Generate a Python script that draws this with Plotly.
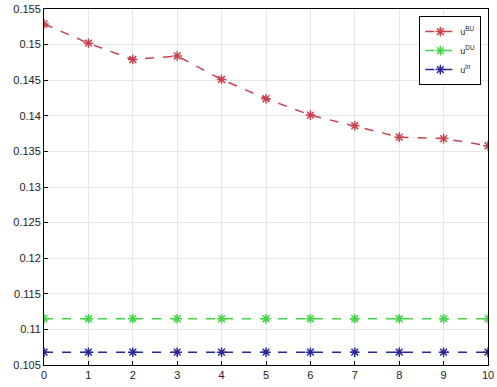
import plotly.graph_objects as go

x = [0, 1, 2, 3, 4, 5, 6, 7, 8, 9, 10]
u_bu = [0.1529, 0.1502, 0.1479, 0.1484, 0.1451, 0.1424, 0.1401, 0.1386, 0.1370, 0.1368, 0.1358]
u_du = [0.1115] * 11
u_in = [0.1068] * 11
names = ["u<sup>BU</sup>", "u<sup>DU</sup>", "u<sup>in</sup>"]
colors = ["#c8424e", "#44d444", "#28289a"]
y_ticks = [0.105, 0.11, 0.115, 0.12, 0.125, 0.13, 0.135, 0.14, 0.145, 0.15, 0.155]
y_labels = ["0.105", "0.11", "0.115", "0.12", "0.125", "0.13", "0.135", "0.14", "0.145", "0.15", "0.155"]

fig = go.Figure()
for ys, nm, c in zip([u_bu, u_du, u_in], names, colors):
    fig.add_trace(go.Scatter(
        x=x, y=ys, name=nm, mode="lines+markers",
        line=dict(color=c, width=1.5, dash="dash"),
        marker=dict(symbol="asterisk-open", size=8, color=c, line=dict(color=c, width=1.5)),
    ))

axis_common = dict(showline=True, linecolor="black", linewidth=1, mirror=True,
                   ticks="inside", ticklen=4, tickcolor="black",
                   showgrid=True, gridcolor="#e6e6e6", gridwidth=1, zeroline=False,
                   tickfont=dict(family="Liberation Sans, Arial", size=11, color="#222"))
fig.update_xaxes(range=[0, 10], tickvals=x, ticklabeloverflow="allow", **axis_common)
fig.update_yaxes(range=[0.105, 0.155], tickvals=y_ticks, ticktext=y_labels, **axis_common)
fig.update_layout(
    width=497, height=387,
    margin=dict(l=44, r=3, t=9, b=22),
    plot_bgcolor="white", paper_bgcolor="white",
    showlegend=True,
    legend=dict(x=0.985, y=0.98, xanchor="right", yanchor="top",
                bordercolor="black", borderwidth=1, bgcolor="white",
                font=dict(family="Liberation Sans, Arial", size=9, color="#222"),
                tracegroupgap=0, itemwidth=30),
)
fig.write_html("out.html", config={"displayModeBar": False},
               post_script="document.body.style.margin='0';document.body.style.overflow='hidden';")
